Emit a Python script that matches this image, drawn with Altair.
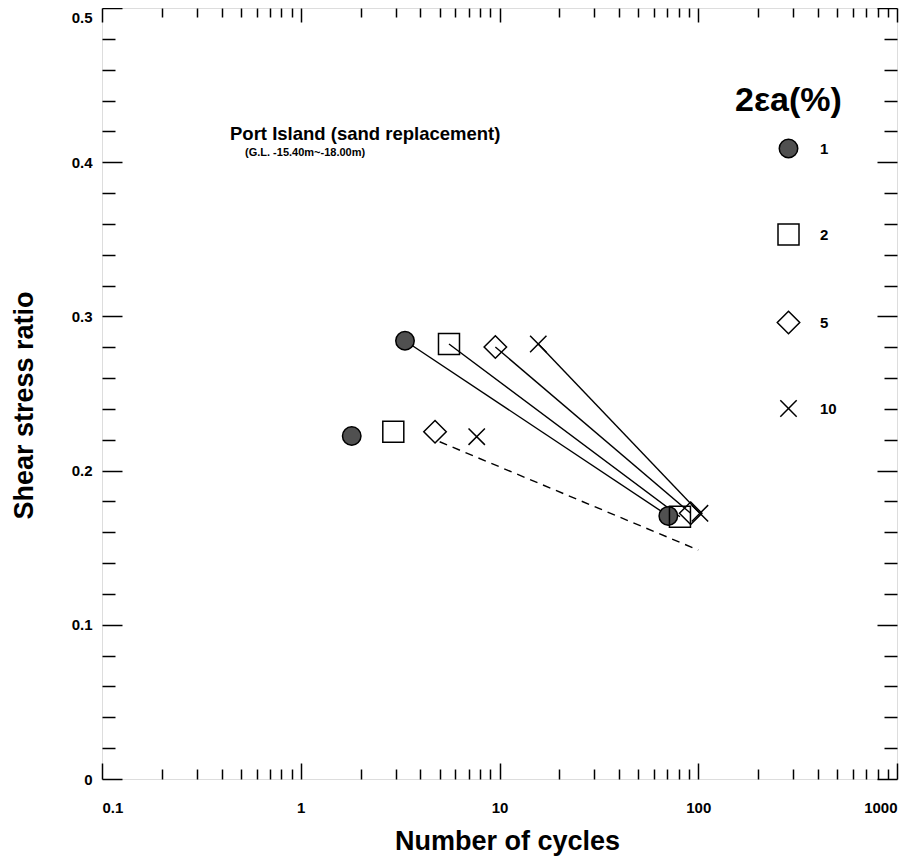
import altair as alt
import pandas as pd

# ---- data ----
strain_levels = ["1", "2", "5", "10"]          # 2εa (%)
cycles_lower = [1.805, 2.922, 4.738, 7.68]
ratio_lower = [0.2224, 0.2252, 0.2252, 0.2220]
cycles_upper = [3.346, 5.57, 9.53, 15.67]
ratio_upper = [0.2842, 0.2821, 0.2802, 0.2821]
cycles_end = [70.7, 80.9, 91.6, 102.0]
ratio_end = [0.1706, 0.1701, 0.1723, 0.1723]
dashed_cycles = [5.0, 100.0]
dashed_ratio = [0.2187, 0.1485]

x_major = [0.1, 1, 10, 100, 1000]
x_minor = [0.2, 0.3, 0.4, 0.5, 0.6, 0.7, 0.8, 0.9,
           2, 3, 4, 5, 6, 7, 8, 9,
           20, 30, 40, 50, 60, 70, 80, 90,
           200, 300, 400, 500, 600, 700, 800, 900]
y_major = [0, 0.1, 0.2, 0.3, 0.4, 0.5]
y_minor = [0.02, 0.04, 0.06, 0.08, 0.12, 0.14, 0.16, 0.18,
           0.22, 0.24, 0.26, 0.28, 0.32, 0.34, 0.36, 0.38,
           0.42, 0.44, 0.46, 0.48]

title_text = ["Port  Island (sand replacement)"]
subtitle_text = ["(G.L. -15.40m~-18.00m)"]

FONT = "Liberation Sans"
NARROW = "Liberation Sans Narrow, Liberation Sans"

# marker outlines (unit box, scaled by the symbol size)
SHAPES = [
    "M-0.88,0A0.88,0.88 0 1,0 0.88,0A0.88,0.88 0 1,0 -0.88,0Z",   # filled circle
    "M-1,-1L1,-1L1,1L-1,1Z",                                      # open square
    "M0,-1.07L1.07,0L0,1.07L-1.07,0Z",                            # open diamond
    "M-0.78,-0.78L0.78,0.78M0.78,-0.78L-0.78,0.78",               # cross
]
MSIZE = 441

df_lower = pd.DataFrame({"strain": strain_levels, "cycles": cycles_lower, "ratio": ratio_lower})
df_upper = pd.DataFrame({"strain": strain_levels, "cycles": cycles_upper, "ratio": ratio_upper})
df_end = pd.DataFrame({"strain": strain_levels, "cycles": cycles_end, "ratio": ratio_end})
df_lines = pd.concat([df_upper, df_end], ignore_index=True)
df_dash = pd.DataFrame({"cycles": dashed_cycles, "ratio": dashed_ratio})

xscale = alt.Scale(type="log", domain=[0.1, 1000], nice=False)
yscale = alt.Scale(domain=[0, 0.5], nice=False, zero=False)

def axis(orient, values, size, labels=False, **kw):
    return alt.Axis(orient=orient, values=values, tickSize=size, offset=-size,
                    domain=False, grid=False, labels=labels, ticks=True,
                    tickColor="black", tickWidth=1.5, **kw)

x_bottom_major = axis("bottom", x_major, 16, labels=True, format="~g",
                      labelFont=NARROW, labelFontSize=15, labelFontWeight="bold",
                      labelColor="black", labelPadding=21,
                      titleFont=FONT, titleFontSize=27, titleFontWeight="bold",
                      titleColor="black", titleX=405, titleY=86,
                      titleBaseline="alphabetic")
y_left_major = axis("left", y_major, 20, labels=True, format="~g",
                    labelFont=NARROW, labelFontSize=15, labelFontWeight="bold",
                    labelColor="black", labelPadding=10,
                    labelOffset={"condition": {"test": "datum.value == 0.5", "value": 9},
                                 "value": 0},
                    titleFont=FONT, titleFontSize=27, titleFontWeight="bold",
                    titleColor="black", titleX=-90, titleY=397,
                    titleBaseline="alphabetic")
x_bottom_minor = axis("bottom", x_minor, 10)
y_left_minor = axis("left", y_minor, 13)
x_top_major = axis("top", x_major, 14)
y_right_major = axis("right", y_major, 20)
x_top_minor = axis("top", x_minor, 9)
y_right_minor = axis("right", y_minor, 13)

legend = alt.Legend(orient="none", legendX=633, legendY=76, title="2εa(%)",
                    titleFont=FONT, titleFontSize=34, titleFontWeight="bold",
                    titleColor="black", titlePadding=19, padding=0,
                    labelFont=NARROW, labelFontSize=15, labelFontWeight="bold",
                    labelColor="black", rowPadding=60, symbolOffset=42,
                    labelOffset=20, symbolStrokeColor="black",
                    symbolStrokeWidth=1.5, symbolSize=MSIZE)

shape_enc = alt.Shape("strain:N", scale=alt.Scale(domain=strain_levels, range=SHAPES),
                      legend=legend)
fill_enc = alt.Fill("strain:N", scale=alt.Scale(
    domain=strain_levels,
    range=["#505050", "transparent", "transparent", "transparent"]), legend=legend)
stroke_enc = alt.Stroke("strain:N", scale=alt.Scale(
    domain=strain_levels,
    range=["black", "black", "black", "black"]), legend=legend)

def points(df, xax, yax, xtitle=None, ytitle=None):
    return alt.Chart(df).mark_point(strokeWidth=1.5, opacity=1, size=MSIZE).encode(
        x=alt.X("cycles:Q", scale=xscale, axis=xax, title=xtitle),
        y=alt.Y("ratio:Q", scale=yscale, axis=yax, title=ytitle),
        shape=shape_enc, fill=fill_enc, stroke=stroke_enc,
    )

lines = alt.Chart(df_lines).mark_line(color="black", strokeWidth=1.4).encode(
    x=alt.X("cycles:Q", scale=xscale, axis=x_top_minor, title=None),
    y=alt.Y("ratio:Q", scale=yscale, axis=y_right_minor, title=None),
    detail="strain:N",
)
dashed = alt.Chart(df_dash).mark_line(color="black", strokeWidth=1.4,
                                      strokeDash=[8, 6]).encode(
    x=alt.X("cycles:Q", scale=xscale, axis=None),
    y=alt.Y("ratio:Q", scale=yscale, axis=None),
)
p_lower = points(df_lower, x_bottom_major, y_left_major,
                 "Number  of  cycles", "Shear  stress  ratio")
p_upper = points(df_upper, x_bottom_minor, y_left_minor)
p_end = points(df_end, x_top_major, y_right_major)

t1 = alt.Chart(pd.DataFrame({"t": title_text})).mark_text(
    align="left", baseline="alphabetic", font=FONT, fontSize=18.5,
    fontWeight="bold", color="black").encode(
    x=alt.value(128), y=alt.value(132), text="t:N")
t2 = alt.Chart(pd.DataFrame({"t": subtitle_text})).mark_text(
    align="left", baseline="alphabetic", font=NARROW, fontSize=11,
    fontWeight="bold", color="black").encode(
    x=alt.value(143), y=alt.value(148), text="t:N")

chart = alt.layer(lines, dashed, p_lower, p_upper, p_end, t1, t2).resolve_axis(
    x="independent", y="independent"
).properties(
    width=795, height=771,
    autosize=alt.AutoSizeParams(type="none"),
    padding={"left": 94, "top": 0, "right": 13, "bottom": 79},
).configure_view(stroke="black", strokeWidth=2.2).configure(background="white")

chart.save("out.html", embed_options={"renderer": "svg", "actions": False})
